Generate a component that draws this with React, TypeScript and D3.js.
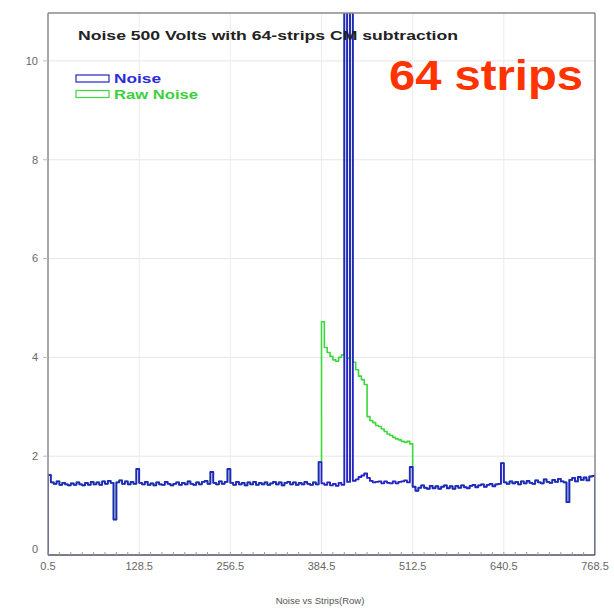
import React from "react";
import * as d3 from "d3";

// ---- data (4-strip bins, strips 0.5 .. 768.5) ----
const BIN_START = 0.5;
const BIN_WIDTH = 4;

const noise: number[] = [
  // bins 0-31
  1.62, 1.47, 1.44, 1.49, 1.42, 1.46, 1.43, 1.41, 1.45, 1.42, 1.47, 1.43, 1.41, 1.46, 1.42, 1.48,
  1.43, 1.47, 1.42, 1.49, 1.44, 1.5, 1.46, 0.72, 1.47, 1.51, 1.44, 1.49, 1.43, 1.48, 1.44, 1.74,
  // bins 32-63
  1.46, 1.43, 1.48, 1.42, 1.45, 1.41, 1.47, 1.43, 1.42, 1.48, 1.44, 1.41, 1.44, 1.47, 1.42, 1.46,
  1.43, 1.49, 1.44, 1.42, 1.47, 1.43, 1.48, 1.5, 1.44, 1.68, 1.46, 1.43, 1.49, 1.44, 1.48, 1.74,
  // bins 64-95
  1.46, 1.42, 1.48, 1.43, 1.46, 1.41, 1.47, 1.43, 1.48, 1.42, 1.46, 1.43, 1.47, 1.42, 1.45, 1.48,
  1.43, 1.47, 1.41, 1.46, 1.48, 1.43, 1.47, 1.42, 1.46, 1.43, 1.48, 1.44, 1.42, 1.47, 1.43, 1.88,
  // bins 96-127
  1.45, 1.42, 1.47, 1.41, 1.44, 1.4, 1.46, 1.42, 30, 1.48, 30, 1.5, 1.53, 1.58, 1.61, 1.65,
  1.56, 1.5, 1.47, 1.48, 1.49, 1.45, 1.49, 1.46, 1.45, 1.49, 1.45, 1.48, 1.49, 1.51, 1.47, 1.78,
  // bins 128-159
  1.38, 1.3, 1.36, 1.41, 1.36, 1.34, 1.4, 1.35, 1.39, 1.34, 1.38, 1.41, 1.35, 1.39, 1.34, 1.4,
  1.36, 1.41, 1.37, 1.35, 1.4, 1.42, 1.37, 1.41, 1.43, 1.38, 1.42, 1.44, 1.39, 1.43, 1.44, 1.86,
  // bins 160-191
  1.47, 1.44, 1.49, 1.45, 1.48, 1.43, 1.49, 1.45, 1.5, 1.46, 1.44, 1.51, 1.47, 1.45, 1.53, 1.48,
  1.46, 1.52, 1.48, 1.54, 1.49, 1.47, 1.07, 1.52, 1.56, 1.49, 1.58, 1.52, 1.57, 1.51, 1.59, 1.6,
];

// raw noise differs from noise only in bins 96-127 (strips 384.5 - 512.5)
const RAW_FIRST_BIN = 96;
const rawNoiseCore: number[] = [
  4.72, 4.2, 4.1, 4.02, 3.95, 3.92, 4.0, 4.05, 30, 3.98, 30, 3.9, 3.75, 3.62, 3.55, 3.45,
  2.8, 2.72, 2.68, 2.62, 2.6, 2.55, 2.5, 2.45, 2.42, 2.38, 2.35, 2.33, 2.3, 2.28, 2.3, 2.25,
];
const rawNoise: number[] = [
  ...noise.slice(0, RAW_FIRST_BIN),
  ...rawNoiseCore,
  ...noise.slice(RAW_FIRST_BIN + rawNoiseCore.length),
];

const X_TICKS = [0.5, 128.5, 256.5, 384.5, 512.5, 640.5, 768.5];
const Y_TICKS = [0, 2, 4, 6, 8, 10];
const X_MINOR_STEP = 16;

const TITLE = "Noise 500 Volts with 64-strips CM subtraction";
const X_TITLE = "Noise vs Strips(Row)";
const SERIES = [
  { name: "Noise", values: noise, color: "#2424c4", text: "#2a2ad8", width: 1.9 },
  { name: "Raw Noise", values: rawNoise, color: "#3cd83c", text: "#3ccf3c", width: 1.6 },
];
const BIG_LABEL = "64 strips";

// ---- layout ----
const W = 614;
const H = 609;
const L = 48, R = 595, T = 13, B = 555;

export default function App() {
  const x = d3.scaleLinear().domain([0.5, 768.5]).range([L, R]);
  const y = d3.scaleLinear().domain([0, 10.97]).range([B, T]);

  const makePath = (vals: number[]) => {
    const pts: [number, number][] = [[BIN_START, 0]];
    vals.forEach((v, i) => pts.push([BIN_START + i * BIN_WIDTH, v]));
    pts.push([BIN_START + vals.length * BIN_WIDTH, vals[vals.length - 1]]);
    pts.push([BIN_START + vals.length * BIN_WIDTH, 0]);
    return d3
      .line<[number, number]>()
      .x((d) => x(d[0]))
      .y((d) => y(d[1]))
      .curve(d3.curveStepAfter)(pts) as string;
  };

  const minor: number[] = d3.range(0.5, 768.5, X_MINOR_STEP);
  const font = "'Liberation Sans', Arial, sans-serif";

  return (
    <svg
      width={W}
      height={H}
      style={{ position: "absolute", left: 0, top: 0, background: "#fff" }}
      fontFamily={font}
    >
      <defs>
        <clipPath id="plotclip">
          <rect x={L} y={T} width={R - L} height={B - T} />
        </clipPath>
      </defs>
      <rect x={0} y={0} width={W} height={H} fill="#fff" />

      {/* grid */}
      {Y_TICKS.filter((t) => t > 0).map((t) => (
        <line key={"gy" + t} x1={L} x2={R} y1={y(t)} y2={y(t)} stroke="#e6e6e6" strokeWidth={1} />
      ))}
      {X_TICKS.slice(1, -1).map((t) => (
        <line key={"gx" + t} x1={x(t)} x2={x(t)} y1={T} y2={B} stroke="#ececec" strokeWidth={1} />
      ))}

      {/* series */}
      <g clipPath="url(#plotclip)">
        {SERIES.slice()
          .reverse()
          .map((s) => (
            <path key={s.name} d={makePath(s.values)} fill="none" stroke={s.color} strokeWidth={s.width} strokeLinejoin="round" />
          ))}
      </g>

      {/* frame */}
      <line x1={L} x2={R} y1={T} y2={T} stroke="#8a8a8a" strokeWidth={1.5} />
      <line x1={R} x2={R} y1={T} y2={B} stroke="#8a8a8a" strokeWidth={1.5} />
      <line x1={L} x2={L} y1={T} y2={B} stroke="#8a8a8a" strokeWidth={1.5} />
      <line x1={L} x2={R} y1={B} y2={B} stroke="#50506a" strokeWidth={1.5} />

      {/* minor ticks on bottom */}
      {minor.map((m) => (
        <line key={"mt" + m} x1={x(m)} x2={x(m)} y1={B} y2={B - 3} stroke="#9a9aa8" strokeWidth={1} />
      ))}

      {/* y ticks & labels */}
      {Y_TICKS.map((t) => (
        <g key={"yt" + t}>
          {t > 0 && <line x1={L - 5} x2={L} y1={y(t)} y2={y(t)} stroke="#bbb" strokeWidth={1} />}
          <text
            x={L - 10}
            y={Math.min(y(t), B - 6)}
            dy="0.35em"
            textAnchor="end"
            fontSize={11}
            fill="#666"
          >
            {t}
          </text>
        </g>
      ))}

      {/* x tick labels */}
      {X_TICKS.map((t) => (
        <text key={"xt" + t} x={x(t)} y={570} textAnchor="middle" fontSize={11} fill="#666">
          {t}
        </text>
      ))}
      <text x={320} y={604} textAnchor="middle" fontSize={9.5} fill="#555">
        {X_TITLE}
      </text>

      {/* title */}
      <text x={78} y={40} fontSize={13} fontWeight="bold" fill="#222" textLength={380} lengthAdjust="spacingAndGlyphs">
        {TITLE}
      </text>

      {/* legend */}
      {SERIES.map((s, i) => (
        <g key={"lg" + s.name} transform={`translate(76, ${75 + i * 15.5})`}>
          <rect x={0} y={0} width={33} height={7} fill="#fff" stroke={s.color} strokeWidth={1.2} />
          <text
            x={38}
            y={8}
            fontSize={13}
            fontWeight="bold"
            fill={s.text}
            textLength={i === 0 ? 47 : 84}
            lengthAdjust="spacingAndGlyphs"
          >
            {s.name}
          </text>
        </g>
      ))}

      {/* big label */}
      <text
        x={389}
        y={90}
        fontSize={42}
        fontWeight="bold"
        fill="#ff3300"
        textLength={194}
        lengthAdjust="spacingAndGlyphs"
      >
        {BIG_LABEL}
      </text>
    </svg>
  );
}
